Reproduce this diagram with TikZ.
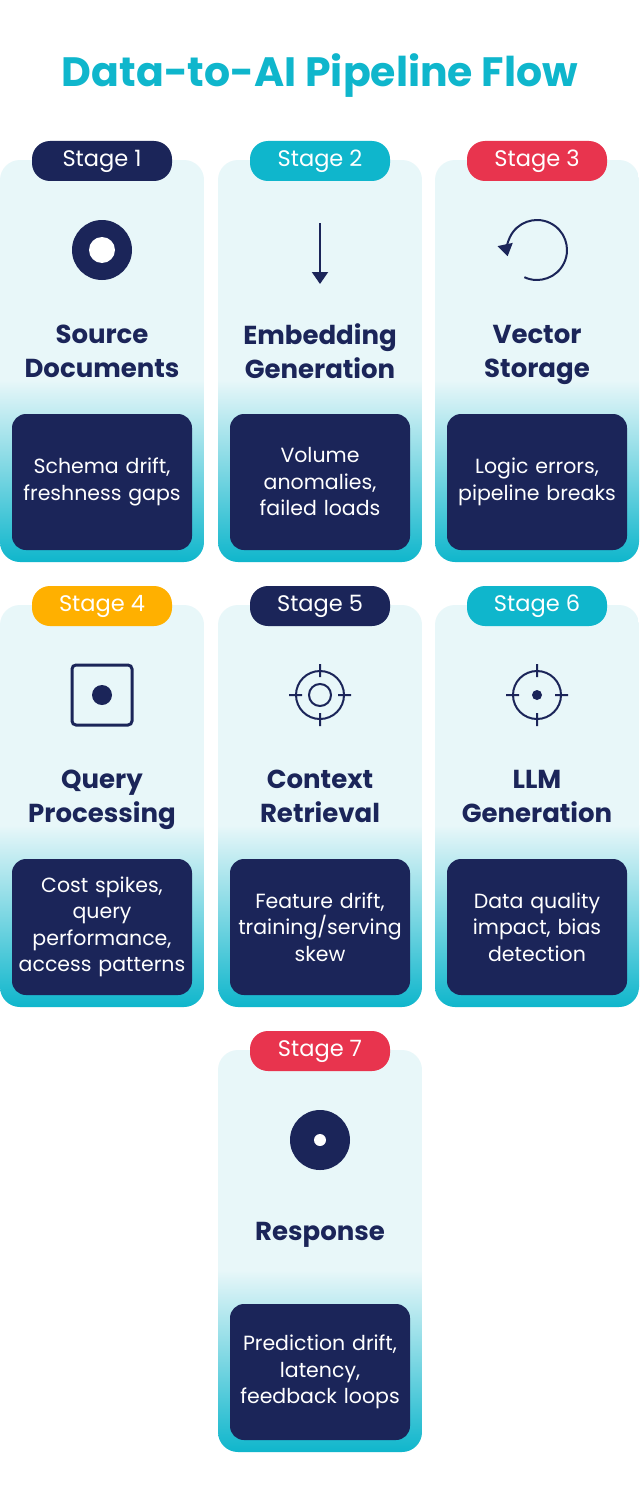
\documentclass[tikz,border=0pt]{standalone}
\usepackage{fontspec}
\setmainfont{Poppins}
\usetikzlibrary{arrows.meta}
\definecolor{navy}{HTML}{1B2559}
\definecolor{cyan}{HTML}{0FB6CC}
\definecolor{light}{HTML}{E8F7F9}
\definecolor{red}{HTML}{E8344E}
\definecolor{orange}{HTML}{FFB000}
\tikzset{
 badge/.style={fill=#1,rounded corners=18pt,minimum width=140pt,minimum height=40pt,text=white,font=\fontsize{22.5}{26}\selectfont,inner sep=0pt},
 ttl/.style={text=navy,font=\bfseries\fontsize{26}{34}\selectfont,align=center,anchor=north,inner sep=0pt,execute at begin node=\strut},
 desc/.style={fill=navy,rounded corners=14pt,minimum width=180pt,minimum height=136pt,text width=180pt,align=center,text=white,font=\fontsize{20.5}{26.5}\selectfont,inner sep=0pt},
 ic/.style={draw=navy,line width=2pt},
}
\newcommand{\card}[9]{% x, top, name, color, badgetext, title, desc, iconcode, title offset
 \begin{scope}
  \clip[rounded corners=20pt] (#1-102,#2) rectangle (#1+102,#2+402);
  \fill[light] (#1-102,#2) rectangle (#1+102,#2+402);
  \shade[top color=light,bottom color=cyan] (#1-102,#2+220) rectangle (#1+102,#2+402);
 \end{scope}
 \node[badge=#4] (#3b) at (#1,#2+1) {#5};
 \node[ttl] (#3t) at (#1,#2+#9) {#6};
 \node[desc] (#3d) at (#1,#2+322) {#7};
 \begin{scope}[shift={(#1,#2+90)}] #8 \end{scope}
}
\begin{document}
\begin{tikzpicture}[x=1pt,y=-1pt]
\useasboundingbox (0,0) rectangle (640,1498);
\fill[white] (0,0) rectangle (640,1498);
\node[text=cyan,font=\bfseries\fontsize{41}{46}\selectfont] (title) at (320,76) {Data-to-AI Pipeline Flow};
\card{102}{160}{s1}{navy}{Stage 1}{Source\\Documents}{Schema drift,\\freshness gaps}{%
 \fill[navy] (0,0) circle (30); \fill[white] (0,0) circle (13);}{165}
\card{320}{160}{s2}{cyan}{Stage 2}{Embedding\\Generation}{Volume\\anomalies,\\failed loads}{%
 \draw[navy,line width=2pt,-{Triangle[length=12pt,width=16pt]}] (0,-27) -- (0,34);}{163}
\card{537}{160}{s3}{red}{Stage 3}{Vector\\Storage}{Logic errors,\\pipeline breaks}{%
 \draw[navy,line width=2pt,-{Triangle[length=12pt,width=15pt]}] (115:30) arc[start angle=115,end angle=-192,radius=30];}{165}
\card{102}{605}{s4}{orange}{Stage 4}{Query\\Processing}{Cost spikes,\\query\\performance,\\access patterns}{%
 \draw[ic,line width=3pt,rounded corners=4pt] (-30,-30) rectangle (30,30); \fill[navy] (0,0) circle (10);}{165}
\card{320}{605}{s5}{navy}{Stage 5}{Context\\Retrieval}{Feature drift,\\training/serving\\skew}{%
 \draw[ic] (0,0) circle (24) (0,0) circle (11) (-31,0)--(-18,0) (18,0)--(31,0) (0,-31)--(0,-18) (0,18)--(0,31);}{165}
\card{537}{605}{s6}{cyan}{Stage 6}{LLM\\Generation}{Data quality\\impact, bias\\detection}{%
 \draw[ic] (0,0) circle (24) (-31,0)--(-18,0) (18,0)--(31,0) (0,-31)--(0,-18) (0,18)--(0,31); \fill[navy] (0,0) circle (5);}{165}
\card{320}{1050}{s7}{red}{Stage 7}{Response}{Prediction drift,\\latency,\\feedback loops}{%
 \fill[navy] (0,0) circle (30); \fill[white] (0,0) circle (6);}{166}
\end{tikzpicture}
\end{document}
